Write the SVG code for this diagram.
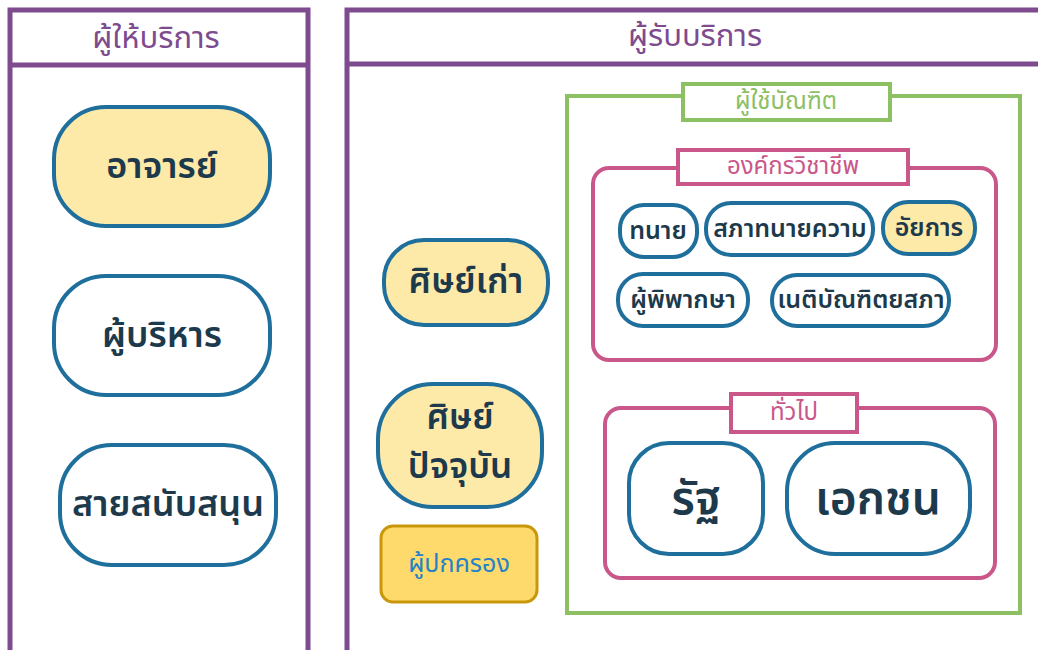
<svg xmlns="http://www.w3.org/2000/svg" width="1038" height="650" viewBox="0 0 1038 650">
<style>
text{font-family:"Noto Sans Thai","Noto Sans","DejaVu Sans",sans-serif;text-anchor:middle;dominant-baseline:central}
.panel{fill:#fff;stroke:#7d4b8e;stroke-width:5}
.ptitle{fill:#7d4b8e;font-size:31px}
.node{fill:#fff;stroke:#1f6f9c;stroke-width:4}
.node.y{fill:#fde9a8}
.nt{fill:#1d3a4c;font-weight:600}
.grp{fill:none;stroke:#c9578a;stroke-width:4}
.glab{fill:#fff;stroke:#c9578a;stroke-width:4}
.gt{fill:#c9578a;font-size:24px}
.green{fill:none;stroke:#8cc063;stroke-width:4}
.greenlab{fill:#fff;stroke:#8cc063;stroke-width:4}
</style>
<rect width="1038" height="650" fill="#fff"/>
<g id="provider-panel">
<rect class="panel" x="10" y="10" width="298" height="650"/>
<line x1="10" y1="65" x2="308" y2="65" stroke="#7d4b8e" stroke-width="5"/>
<text class="ptitle" x="156" y="38">ผู้ให้บริการ</text>
</g>
<g id="receiver-panel">
<rect class="panel" x="347" y="10" width="700" height="650"/>
<line x1="347" y1="64" x2="1038" y2="64" stroke="#7d4b8e" stroke-width="5"/>
<text class="ptitle" x="695" y="36">ผู้รับบริการ</text>
</g>
<g id="n-ajarn"><rect class="node y" x="54" y="107" width="216" height="119" rx="52"/><text class="nt" x="162" y="167" font-size="36">อาจารย์</text></g>
<g id="n-executive"><rect class="node" x="54" y="276" width="216" height="119" rx="52"/><text class="nt" x="162" y="336" font-size="36">ผู้บริหาร</text></g>
<g id="n-support"><rect class="node" x="60" y="445" width="216" height="120" rx="52"/><text class="nt" x="168" y="505" font-size="36">สายสนับสนุน</text></g>
<g id="n-alumni"><rect class="node y" x="384" y="240" width="164" height="85" rx="40"/><text class="nt" x="466" y="282" font-size="35">ศิษย์เก่า</text></g>
<g id="n-current"><rect class="node y" x="378" y="384" width="164" height="123" rx="55"/><text class="nt" x="460" y="418" font-size="35">ศิษย์</text><text class="nt" x="460" y="467" font-size="35">ปัจจุบัน</text></g>
<g id="n-parent"><rect x="381" y="526" width="156" height="76" rx="12" fill="#fed96b" stroke="#c9970c" stroke-width="3"/><text x="459" y="564" font-size="25" fill="#2382c9">ผู้ปกครอง</text></g>
<g id="g-employer">
<rect class="green" x="567" y="96" width="453" height="517"/>
<rect class="greenlab" x="683" y="84" width="207" height="36"/>
<text x="786" y="102" font-size="24" fill="#8cc063">ผู้ใช้บัณฑิต</text>
</g>
<g id="g-professional">
<rect class="grp" x="593" y="168" width="403" height="192" rx="16"/>
<rect class="glab" x="678" y="150" width="230" height="34"/>
<text class="gt" x="793" y="167">องค์กรวิชาชีพ</text>
</g>
<g id="n-lawyer"><rect class="node" x="620" y="205" width="77" height="52" rx="24"/><text class="nt" x="658" y="231" font-size="25">ทนาย</text></g>
<g id="n-lawcouncil"><rect class="node" x="706" y="203" width="167" height="52" rx="25"/><text class="nt" x="790" y="229" font-size="25">สภาทนายความ</text></g>
<g id="n-prosecutor"><rect class="node y" x="883" y="202" width="92" height="52" rx="25"/><text class="nt" x="929" y="228" font-size="25">อัยการ</text></g>
<g id="n-judge"><rect class="node" x="618" y="274" width="130" height="52" rx="25"/><text class="nt" x="683" y="300" font-size="25">ผู้พิพากษา</text></g>
<g id="n-barassoc"><rect class="node" x="772" y="275" width="177" height="51" rx="25"/><text class="nt" x="861" y="300" font-size="25">เนติบัณฑิตยสภา</text></g>
<g id="g-general">
<rect class="grp" x="605" y="408" width="390" height="170" rx="16"/>
<rect class="glab" x="731" y="394" width="126" height="38"/>
<text class="gt" x="794" y="413" font-size="26">ทั่วไป</text>
</g>
<g id="n-state"><rect class="node" x="629" y="443" width="134" height="111" rx="40"/><text class="nt" x="696" y="500" font-size="46">รัฐ</text></g>
<g id="n-private"><rect class="node" x="787" y="443" width="183" height="111" rx="48"/><text class="nt" x="878" y="500" font-size="46">เอกชน</text></g>
<g id="connectors"/>
</svg>
